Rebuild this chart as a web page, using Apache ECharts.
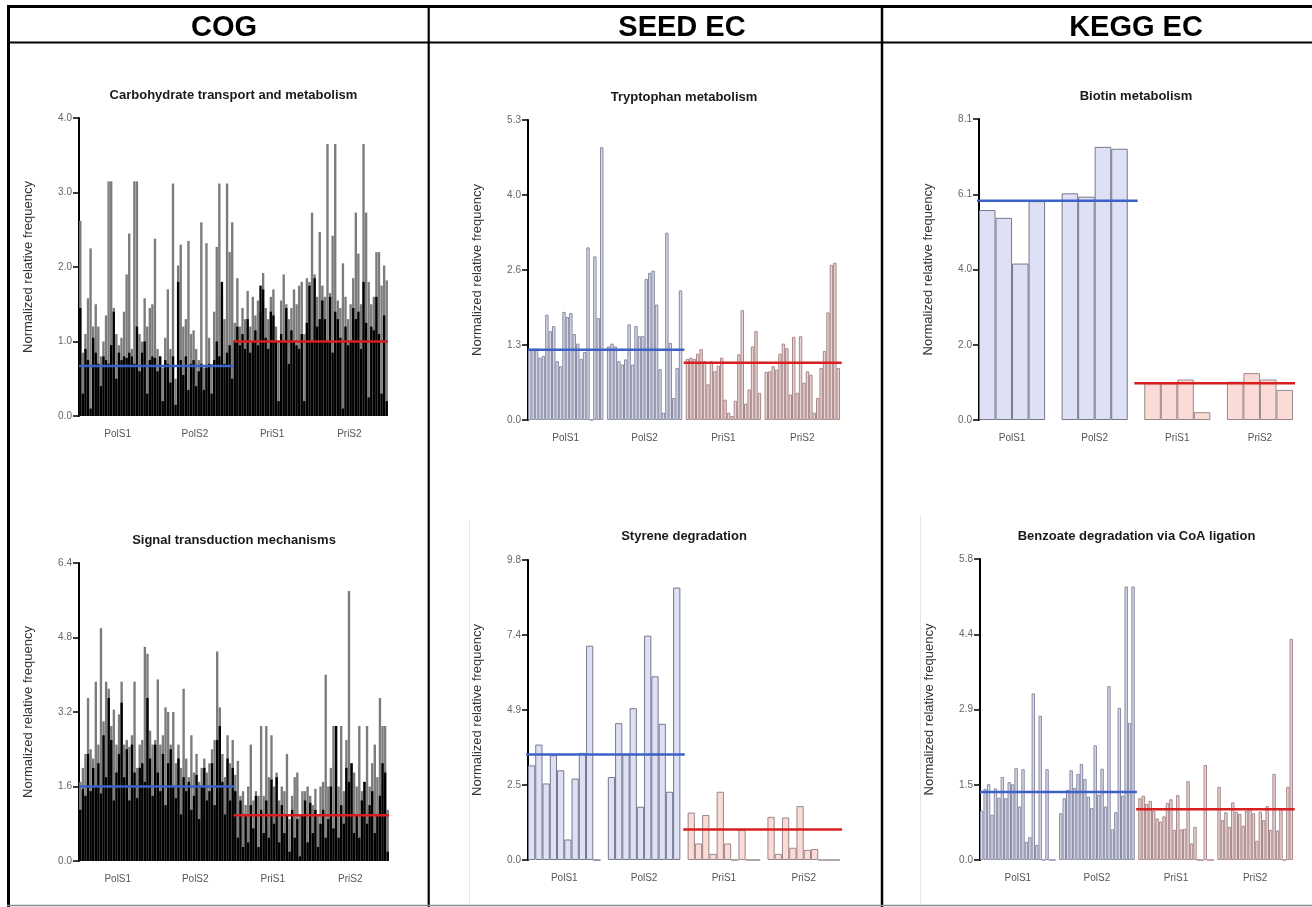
<!DOCTYPE html>
<html>
<head>
<meta charset="utf-8">
<script src="https://cdn.jsdelivr.net/npm/echarts@6/dist/echarts.min.js"></script>
<style>
html, body { margin: 0; padding: 0; background: #fff; }
#chart { width: 1312px; height: 907px; }
</style>
</head>
<body>
<div id="chart"></div>
<script>
// samples (x groups)
var sampleNames = ['PolS1', 'PolS2', 'PriS1', 'PriS2'];

// COG - Carbohydrate transport and metabolism (120 bars, 30 per sample)
var cogCarbBlack = [
  1.45,0.3,0.9,0.75,0.1,1.05,0.85,0.7,0.4,0.8, 0.75,0.7,0.95,1.4,0.5,0.85,0.75,0.8,0.78,0.85,
  0.8,0.7,1.2,0.6,0.85,1.0,0.3,0.75,0.8,0.78, 0.6,0.8,0.2,0.75,0.7,0.45,0.8,0.15,1.8,0.75,
  0.55,0.8,0.35,0.7,0.75,0.4,0.6,0.7,0.35,0.65, 0.7,0.3,0.75,1.0,0.8,1.8,0.7,0.85,0.95,0.5,
  1.0,1.2,0.95,1.1,0.9,1.3,0.85,1.0,1.15,0.95, 1.75,1.7,1.05,0.9,1.4,1.35,1.0,0.2,1.1,1.0,
  1.45,0.7,1.15,1.0,0.95,0.9,1.1,0.2,1.25,1.75, 1.0,1.85,1.2,1.3,1.55,1.3,1.0,1.6,0.85,1.4,
  1.3,1.05,0.1,1.2,0.95,1.0,1.45,1.3,1.4,0.9, 1.8,1.25,0.25,1.2,1.15,1.6,1.1,0.3,1.35,0.2
];
var cogCarbGray = [
  2.62,0.85,1.1,1.58,2.25,1.2,1.5,1.2,0.8,1.0, 1.35,3.15,3.15,1.45,1.1,0.95,1.05,1.4,1.9,2.45,
  0.9,3.15,3.15,1.1,1.0,1.58,1.2,1.45,1.5,2.38, 0.9,0.8,0.65,1.05,1.7,0.9,3.12,0.5,2.02,2.3,
  1.2,1.3,2.35,1.1,1.15,0.9,0.75,2.6,0.65,2.32, 1.05,0.7,1.4,2.27,3.12,1.6,1.3,3.12,2.2,2.6,
  1.25,1.85,1.2,1.45,1.3,1.68,1.2,1.6,1.35,1.55, 1.4,1.92,1.45,1.3,1.6,1.7,1.2,1.0,1.55,1.9,
  1.5,1.3,1.45,1.7,1.5,1.75,1.8,1.1,1.85,1.8, 2.73,1.9,1.6,2.47,1.75,1.6,3.65,1.65,2.42,3.65,
  1.55,1.45,2.05,1.6,1.3,1.5,1.85,2.73,2.18,1.5, 3.65,2.73,1.8,1.5,1.6,2.2,2.2,1.75,2.02,1.82
];
var cogCarbMeans = [0.67, 1.0];
var cogCarbTicks = ['0.0', '1.0', '2.0', '3.0', '4.0'];

// COG - Signal transduction mechanisms
var cogSigBlack = [
  1.1,1.55,1.4,2.3,1.5,2.0,1.6,2.1,1.45,2.7, 1.8,3.5,2.6,1.3,1.9,2.3,3.4,1.8,2.4,1.3,
  2.5,1.9,1.35,2.0,2.1,1.7,3.5,2.2,1.4,2.5, 1.9,1.5,2.3,1.2,2.1,2.4,1.6,1.35,2.2,1.0,
  1.8,1.5,1.7,1.1,1.4,1.85,0.9,1.6,2.0,1.3, 1.5,2.1,1.2,2.6,2.9,1.7,1.0,2.2,1.3,2.0,
  1.5,0.5,1.3,0.3,1.0,0.4,1.2,0.7,1.4,0.3, 1.1,0.6,1.3,0.5,1.75,0.8,1.8,0.4,1.2,0.6,
  1.0,0.2,1.1,0.5,0.9,0.1,1.0,1.3,0.4,1.25, 0.6,1.1,0.3,0.8,1.1,0.5,0.9,1.6,0.7,2.9,
  0.5,1.2,0.8,2.0,1.7,2.1,0.6,1.0,0.5,1.3, 1.7,0.8,1.2,1.5,0.6,1.0,1.4,2.1,1.9,0.2
];
var cogSigGray = [
  1.7,2.0,2.3,3.5,2.4,2.2,3.85,2.5,5.0,3.0, 3.85,3.7,2.9,3.25,2.5,3.15,3.85,2.5,2.6,2.45,
  2.7,3.85,2.0,2.5,2.6,4.6,4.45,2.8,2.5,2.6, 3.9,2.5,2.7,3.3,3.2,2.5,3.2,2.1,2.5,2.0,
  3.7,2.2,1.8,2.7,1.9,2.3,1.7,2.0,2.2,1.9, 2.1,2.4,2.6,4.5,3.3,2.3,1.8,2.7,2.1,2.6,
  1.85,2.15,1.4,1.5,1.2,1.6,2.5,1.3,1.5,1.4, 2.9,1.4,2.9,1.8,2.7,1.6,1.9,1.3,1.6,1.5,
  2.3,0.9,1.4,1.8,1.9,1.0,1.5,1.5,1.6,1.4, 1.2,1.55,1.0,1.6,1.7,4.0,1.6,2.0,2.9,2.9,
  1.6,2.9,1.5,2.6,5.8,2.1,1.9,1.6,2.9,1.5, 1.7,2.9,1.6,2.1,2.5,1.8,3.5,2.9,2.9,1.1
];
var cogSigMeans = [1.6, 0.98];
var cogSigTicks = ['0.0', '1.6', '3.2', '4.8', '6.4'];

// SEED EC - Tryptophan metabolism
var seedTrpPolS1 = [1.26,1.26,1.26,1.1,1.13,1.86,1.57,1.66,1.04,0.95,1.91,1.82,1.89,1.52,1.35,1.08,1.2,3.05,0,2.89,1.8,4.82];
var seedTrpPolS2 = [1.3,1.35,1.3,1.04,0.98,1.07,1.69,0.98,1.66,1.48,1.48,2.49,2.6,2.64,2.04,0.9,0.13,3.31,1.36,0.39,0.92,2.29];
var seedTrpPriS1 = [1.08,1.1,1.08,1.17,1.25,1.04,0.63,1.04,0.86,0.96,1.1,0.36,0.13,0.07,0.34,1.16,1.94,0.29,0.54,1.3,1.57,0.48];
var seedTrpPriS2 = [0.85,0.86,0.95,0.89,1.17,1.35,1.27,0.45,1.47,0.48,1.48,0.66,0.86,0.8,0.13,0.39,0.92,1.22,1.9,2.74,2.78,0.92];
var seedTrpMeans = [1.24, 1.01];
var seedTrpTicks = ['0.0', '1.3', '2.6', '4.0', '5.3'];

// SEED EC - Styrene degradation
var seedStyPolS1 = [3.09,3.77,2.5,3.42,2.93,0.67,2.66,3.5,7.0,0];
var seedStyPolS2 = [2.71,4.47,3.45,4.96,1.74,7.33,6.0,4.45,2.23,8.9];
var seedStyPriS1 = [1.55,0.54,1.47,0.2,2.23,0.54,0,0.98,0,0];
var seedStyPriS2 = [1.41,0.2,1.39,0.4,1.76,0.33,0.36,0,0,0];
var seedStyMeans = [3.45, 1.0];
var seedStyTicks = ['0.0', '2.5', '4.9', '7.4', '9.8'];

// KEGG EC - Biotin metabolism
var keggBioPolS1 = [5.65,5.44,4.21,5.89];
var keggBioPolS2 = [6.1,6.01,7.35,7.3];
var keggBioPriS1 = [0.99,0.99,1.09,0.21];
var keggBioPriS2 = [1.03,1.26,1.09,0.81];
var keggBioMeans = [5.9, 0.99];
var keggBioTicks = ['0.0', '2.0', '4.0', '6.1', '8.1'];

// KEGG EC - Benzoate degradation via CoA ligation
var keggBenPolS1 = [0.95,1.37,1.46,0.87,1.38,1.2,1.6,1.19,1.5,1.46,1.77,1.03,1.75,0.35,0.44,3.21,0.29,2.78,0,1.75,0,0];
var keggBenPolS2 = [0.9,1.19,1.35,1.73,1.39,1.66,1.85,1.56,1.22,1.0,2.21,1.26,1.76,1.03,3.35,0.59,0.92,2.93,1.24,5.27,2.64,5.27];
var keggBenPriS1 = [1.19,1.24,1.08,1.14,0.95,0.8,0.74,0.84,1.1,1.17,0.58,1.25,0.59,0.6,1.52,0.32,0.64,0,0,1.83,0,0];
var keggBenPriS2 = [1.41,0.77,0.92,0.64,1.11,0.93,0.89,0.66,0.95,1.0,0.9,0.37,0.93,0.77,1.04,0.58,1.66,0.57,0.98,0,1.41,4.26];
var keggBenMeans = [1.31, 0.98];
var keggBenTicks = ['0.0', '1.5', '2.9', '4.4', '5.8'];

var FONT = '"Liberation Sans", Arial, Helvetica, sans-serif';
var BLUE = '#3c62c8', RED = '#d81e1e';

// colour sets for the open bars
var paleA = { pol: ['#d6d7e7', '#8a8ca4'], pri: ['#ead4d1', '#a8888a'] };
var paleB = { pol: ['#dee0f6', '#77788a'], pri: ['#fcdad6', '#98888a'] };

var panels = [
  { title: 'Carbohydrate transport and metabolism', box: [79, 118, 309, 298], titleY: 95,
    cog: [cogCarbGray, cogCarbBlack], size: 30, ticks: cogCarbTicks, means: cogCarbMeans },
  { title: 'Signal transduction mechanisms', box: [79, 563, 310, 298], titleY: 540,
    cog: [cogSigGray, cogSigBlack], size: 30, ticks: cogSigTicks, means: cogSigMeans },
  { title: 'Tryptophan metabolism', box: [528, 120, 312, 300], titleY: 97, col: paleA, lead: 0,
    groups: [seedTrpPolS1, seedTrpPolS2, seedTrpPriS1, seedTrpPriS2], ticks: seedTrpTicks, means: seedTrpMeans },
  { title: 'Styrene degradation', box: [528, 560, 312, 300], titleY: 536, col: paleB, lead: 0.25,
    groups: [seedStyPolS1, seedStyPolS2, seedStyPriS1, seedStyPriS2], ticks: seedStyTicks, means: seedStyMeans },
  { title: 'Biotin metabolism', box: [979, 119, 314, 301], titleY: 96, col: paleB, lead: 0.45,
    groups: [keggBioPolS1, keggBioPolS2, keggBioPriS1, keggBioPriS2], ticks: keggBioTicks, means: keggBioMeans },
  { title: 'Benzoate degradation via CoA ligation', box: [980, 559, 313, 301], titleY: 536, col: paleA, lead: 0,
    groups: [keggBenPolS1, keggBenPolS2, keggBenPriS1, keggBenPriS2], ticks: keggBenTicks, means: keggBenMeans }
];

var grid = [], xAxis = [], yAxis = [], series = [], graphic = [];

panels.forEach(function (p, i) {
  var b = p.box;
  var cats = [], centers = [], N, mid, tail;
  var barData = [];

  if (p.cog) {
    N = p.cog[0].length;
    for (var k = 0; k < N; k++) cats.push(k);
    for (var g = 0; g < 4; g++) centers.push(g * p.size + (p.size - 1) / 2);
    mid = 2 * p.size - 0.5;
    tail = 0;
  } else {
    var pos = 0;
    p.groups.forEach(function (arr, gi) {
      if (gi > 0) { barData.push('-'); cats.push(pos); pos++; }
      centers.push(pos + (arr.length - 1) / 2);
      if (gi === 2) mid = pos - 1;
      var c = gi < 2 ? p.col.pol : p.col.pri;
      arr.forEach(function (v) {
        barData.push({ value: v, itemStyle: { color: c[0], borderColor: c[1] } });
        cats.push(pos); pos++;
      });
    });
    N = pos;
    tail = 0.5;
  }

  var max = parseFloat(p.ticks[p.ticks.length - 1]);
  var step = max / 4;

  grid.push({ left: b[0], top: b[1], width: b[2], height: b[3] });

  xAxis.push({ type: 'category', gridIndex: i, position: 'bottom', data: cats, show: false,
    axisLine: { onZero: false } });
  xAxis.push({ type: 'value', gridIndex: i, position: 'bottom', min: -0.5, max: N - 0.5,
    axisLine: { show: false, onZero: false }, axisTick: { show: false }, splitLine: { show: false },
    axisLabel: { customValues: centers, margin: 13, fontSize: 10, color: '#555', fontFamily: FONT,
      formatter: function (v) { var k = centers.indexOf(v); return k >= 0 ? sampleNames[k] : ''; } } });

  yAxis.push({ type: 'value', gridIndex: i, min: 0, max: max, interval: step,
    name: 'Normalized relative frequency', nameLocation: 'middle', nameGap: 44,
    nameTextStyle: { fontSize: 13, color: '#333', fontFamily: FONT },
    axisLine: { show: true, onZero: false, lineStyle: { color: '#000', width: 2 } },
    axisTick: { show: true, length: 6, lineStyle: { color: '#000', width: 1.5 } },
    axisLabel: { margin: 7, fontSize: 10, color: '#666', fontFamily: FONT,
      formatter: function (v) { return p.ticks[Math.round(v / step)] || ''; } },
    splitLine: { show: false } });

  if (p.cog) {
    series.push({ type: 'bar', xAxisIndex: 2 * i, yAxisIndex: i, data: p.cog[0],
      barGap: '-100%', barCategoryGap: '8%', itemStyle: { color: '#7c7c7c' }, silent: true });
    series.push({ type: 'bar', xAxisIndex: 2 * i, yAxisIndex: i, data: p.cog[1],
      barGap: '-100%', barCategoryGap: '8%', itemStyle: { color: '#000' }, silent: true });
  } else {
    series.push({ type: 'bar', xAxisIndex: 2 * i, yAxisIndex: i, data: barData,
      barCategoryGap: '0%', itemStyle: { borderWidth: 1 }, silent: true });
  }

  var lead = p.lead || 0;
  series.push({ type: 'line', xAxisIndex: 2 * i + 1, yAxisIndex: i, clip: false, silent: true,
    symbol: 'none', z: 5, lineStyle: { color: BLUE, width: 2.5 },
    data: [[-0.5 - lead, p.means[0]], [mid + 0.1, p.means[0]]] });
  series.push({ type: 'line', xAxisIndex: 2 * i + 1, yAxisIndex: i, clip: false, silent: true,
    symbol: 'none', z: 5, lineStyle: { color: RED, width: 2.5 },
    data: [[mid - 0.1, p.means[1]], [N - 0.5 + tail, p.means[1]]] });

  graphic.push({ type: 'text', x: b[0] + b[2] / 2, y: p.titleY, silent: true,
    style: { text: p.title, fill: '#1a1a1a', font: 'bold 13px ' + FONT, align: 'center', verticalAlign: 'middle' } });
});

// column headers
[['COG', 224], ['SEED EC', 682], ['KEGG EC', 1136]].forEach(function (h) {
  graphic.push({ type: 'text', x: h[1], y: 28, silent: true,
    style: { text: h[0], fill: '#000', font: 'bold 29px ' + FONT, align: 'center', verticalAlign: 'middle' } });
});

// frame
function rule(x1, y1, x2, y2, w, c) {
  graphic.push({ type: 'line', silent: true, shape: { x1: x1, y1: y1, x2: x2, y2: y2 },
    style: { stroke: c || '#000', lineWidth: w } });
}
rule(7, 6.5, 1312, 6.5, 3);
rule(8.5, 5, 8.5, 907, 3);
rule(7, 42.5, 1312, 42.5, 2);
rule(428.7, 5, 428.7, 907, 2.2);
rule(882, 5, 882, 907, 2.5);
rule(7, 905.5, 1312, 905.5, 1.5, '#8a8a8a');
rule(469.5, 520, 469.5, 905, 1, '#e6e6e6');
rule(920.5, 515, 920.5, 905, 1, '#e6e6e6');

var myChart = echarts.init(document.getElementById('chart'), null, { renderer: 'canvas' });
myChart.setOption({
  animation: false,
  backgroundColor: '#fff',
  grid: grid,
  xAxis: xAxis,
  yAxis: yAxis,
  series: series,
  graphic: graphic
});
</script>
</body>
</html>
